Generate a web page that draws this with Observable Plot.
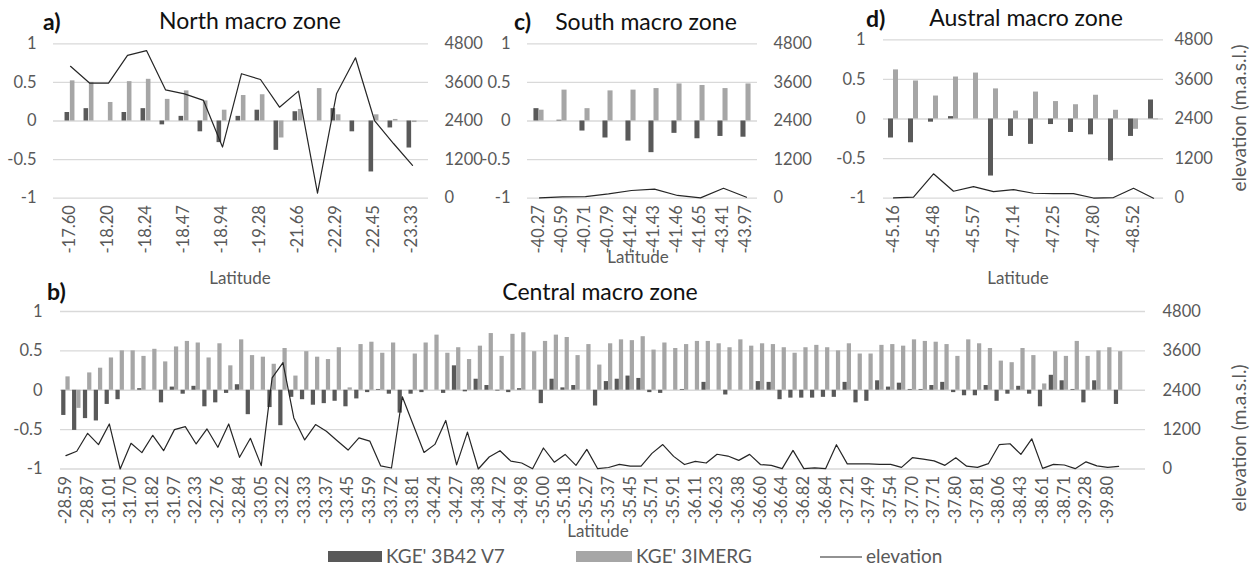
<!DOCTYPE html>
<html><head><meta charset="utf-8">
<script src="https://cdn.jsdelivr.net/npm/d3@7"></script>
<script src="https://cdn.jsdelivr.net/npm/@observablehq/plot@0.6"></script>
<style>
body{margin:0;background:#fff;}
#wrap{position:relative;width:1250px;height:573px;font-family:Lato,sans-serif;overflow:hidden;}
#wrap svg{position:absolute;left:0;top:0;}
</style></head><body><div id="wrap"></div>
<script>
// ---- data ----
const kgeTicks = [-1, -0.5, 0, 0.5, 1];
const elevTicks = [0, 1200, 2400, 3600, 4800];

const northLabels = ["-17.60","-18.20","-18.24","-18.47","-18.94","-19.28","-21.66","-22.29","-22.45","-23.33"];
const north3B42  = [0.11,0.16,0,0.11,0.16,-0.05,0.06,-0.14,-0.28,0.06,0.14,-0.38,0.12,0,0.16,-0.14,-0.66,-0.09,-0.35];
const northIMERG = [0.52,0.50,0.24,0.51,0.54,0.28,0.39,0.26,0.14,0.33,0.34,-0.22,0.15,0.42,0.08,0,0.08,0.02,-0.02];
const northElev  = [4100,3580,3580,4440,4590,3370,3245,3040,1590,3870,3690,2830,3330,155,3245,4365,2415,1700,1020];

const southLabels = ["-40.27","-40.59","-40.71","-40.79","-41.42","-41.43","-41.46","-41.65","-43.41","-43.97"];
const south3B42  = [0.16,0.01,-0.13,-0.22,-0.26,-0.41,-0.16,-0.23,-0.20,-0.21];
const southIMERG = [0.14,0.40,0.16,0.39,0.40,0.42,0.48,0.46,0.42,0.48];
const southElev  = [10,40,50,135,240,280,85,10,310,30];

const australLabels = ["-45.16","-45.48","-45.57","-47.14","-47.25","-47.80","-48.52"];
const austral3B42  = [-0.24,-0.30,-0.04,0.03,0,-0.72,-0.22,-0.32,-0.07,-0.17,-0.20,-0.53,-0.22,0.24];
const australIMERG = [0.62,0.48,0.29,0.53,0.58,0.38,0.10,0.34,0.22,0.18,0.30,0.11,-0.13,-0.01];
const australElev  = [10,30,740,210,350,200,260,150,140,140,5,20,300,0];

const centralLabels = ["-28.59","-28.87","-31.01","-31.70","-31.82","-31.97","-32.33","-32.76","-32.84","-33.05",
  "-33.22","-33.33","-33.37","-33.45","-33.59","-33.72","-33.81","-34.24","-34.27","-34.38",
  "-34.72","-34.98","-35.00","-35.18","-35.27","-35.37","-35.45","-35.71","-35.91","-36.11",
  "-36.23","-36.38","-36.60","-36.64","-36.82","-36.84","-37.21","-37.49","-37.54","-37.70",
  "-37.71","-37.80","-37.81","-38.06","-38.43","-38.61","-38.71","-39.28","-39.80"];
const central3B42 = [-0.32,-0.51,-0.36,-0.39,-0.18,-0.12,0,0.02,0,-0.16,
  0.04,-0.05,0.05,-0.21,-0.16,-0.04,0.07,-0.31,0,-0.22,
  -0.45,-0.09,-0.12,-0.19,-0.17,-0.14,-0.21,-0.11,-0.03,0.01,
  -0.05,-0.29,-0.05,-0.03,0,-0.04,0.31,-0.02,0.14,0.06,
  -0.01,-0.03,0.02,0,-0.17,0.14,0.03,0.06,0,-0.20,
  0.11,0.14,0.18,0.15,-0.03,-0.04,0,0.01,0,0.10,
  0,-0.06,0,0,0.11,0.10,-0.12,-0.10,-0.10,-0.10,
  -0.09,-0.09,0.10,-0.16,-0.14,0.12,0.04,0.09,0.01,0.01,
  0.06,0.10,-0.03,-0.07,-0.07,0.06,-0.14,-0.05,0.05,-0.05,
  -0.21,0.19,0.12,0.01,-0.16,0.12,0,-0.18];
const centralIMERG = [0.17,-0.23,0.22,0.28,0.41,0.50,0.50,0.43,0.52,0.36,
  0.55,0.62,0.60,0.41,0.59,0.31,0.64,0.44,0.42,0.33,
  0.53,0.18,0.49,0.42,0.39,0.54,0.03,0.58,0.61,0.47,
  0.60,0,0.46,0.60,0.70,0.47,0.54,0.39,0.56,0.72,
  0.43,0.71,0.73,0.49,0.62,0.70,0.67,0.44,0.58,0.32,
  0.59,0.64,0.63,0.68,0.51,0.60,0.53,0.58,0.62,0.62,
  0.59,0.54,0.64,0.56,0.59,0.58,0.54,0.47,0.54,0.57,
  0.54,0.50,0.59,0.46,0.46,0.57,0.58,0.56,0.64,0.62,
  0.61,0.58,0.43,0.64,0.59,0.53,0.37,0.35,0.53,0.44,
  0.08,0.49,0.43,0.62,0.43,0.50,0.54,0.49];
const centralElev = [407,539,1088,742,1373,0,783,498,1027,559,
  1200,1292,763,1220,661,1373,356,936,102,2777,
  3244,1556,885,1353,1149,862,578,948,850,96,
  30,2200,1350,505,750,1480,125,1125,0,365,
  557,238,182,10,640,208,445,112,598,10,
  45,140,90,90,476,745,385,136,233,182,
  450,395,263,445,136,110,10,567,10,35,
  10,740,157,157,157,140,142,50,345,300,
  248,112,340,86,50,162,740,770,445,920,
  20,142,122,10,218,96,50,80];

// ---- drawing ----
const W = 1250, H = 573;
const wrap = document.getElementById("wrap");
const baseStyle = {background:"transparent", overflow:"visible", fontFamily:"Lato, sans-serif", fontSize:"16.5px", color:"#595959"};

function panel(c) {
  const n = c.d1.length;
  const idx = d3.range(n);
  const inR = c.insetRight || 0;
  const bw = (c.R - c.L - inR) / n;
  const common = {width: W, height: H, marginLeft: c.L, marginRight: W - c.R, marginTop: c.T, marginBottom: H - c.B, style: baseStyle};
  const ticks = idx.filter(i => i % c.every === 0);
  const bars = Plot.plot({
    ...common,
    x: {type: "band", domain: idx, padding: 0, insetRight: inR},
    y: {domain: [-1, 1]},
    marks: [
      Plot.ruleY(kgeTicks, {stroke: "#d9d9d9", strokeWidth: 1.3}),
      Plot.barY(c.d1, {x: (d, i) => i, y: d => d, fill: "#595959", insetLeft: bw * (0.5 - c.frac), insetRight: bw * 0.5}),
      Plot.barY(c.d2, {x: (d, i) => i, y: d => d, fill: "#a6a6a6", insetLeft: bw * 0.5, insetRight: bw * (0.5 - c.frac)}),
      Plot.axisY({ticks: kgeTicks, tickSize: 0, tickPadding: c.padL, tickFormat: d => String(d), label: null}),
      Plot.axisX({ticks, tickFormat: i => c.labels[i / c.every], tickRotate: -90, tickSize: 0, tickPadding: 7, label: null})
    ]
  });
  const line = Plot.plot({
    ...common,
    x: {type: "point", domain: idx, padding: 0.5, insetRight: inR, axis: null},
    y: {domain: [0, 4800]},
    marks: [
      Plot.line(c.elev, {x: (d, i) => i, y: d => d, stroke: "#262626", strokeWidth: 1.2}),
      Plot.axisY({anchor: "right", ticks: elevTicks, tickSize: 0, tickPadding: c.padR, tickFormat: d => String(d), label: null})
    ]
  });
  wrap.appendChild(bars);
  wrap.appendChild(line);
}

panel({d1: north3B42, d2: northIMERG, elev: northElev, labels: northLabels, every: 2, L: 53, R: 428, T: 43.3, B: 197.7, frac: 0.27, padL: 17, padR: 16});
panel({d1: south3B42, d2: southIMERG, elev: southElev, labels: southLabels, every: 1, L: 527, R: 757, T: 43.3, B: 197.7, frac: 0.22, padL: 17, padR: 16});
panel({d1: austral3B42, d2: australIMERG, elev: australElev, labels: australLabels, every: 2, L: 883, R: 1163, T: 39.3, B: 197.7, frac: 0.25, padL: 18, padR: 11});
panel({d1: central3B42, d2: centralIMERG, elev: centralElev, labels: centralLabels, every: 2, L: 60, R: 1145, T: 311, B: 468.5, frac: 0.39, padL: 18, padR: 17, insetRight: 21.5});

// ---- annotations ----
const ns = "http://www.w3.org/2000/svg";
const ann = document.createElementNS(ns, "svg");
ann.setAttribute("width", W); ann.setAttribute("height", H);
ann.style.fontFamily = "Lato, sans-serif";
ann.innerHTML = `
<g fill="#111">
  <text x="43" y="30" font-size="23" font-weight="bold">a)</text>
  <text x="250" y="29" font-size="23" text-anchor="middle">North macro zone</text>
  <text x="514" y="30" font-size="23" font-weight="bold">c)</text>
  <text x="646" y="30" font-size="23" text-anchor="middle">South macro zone</text>
  <text x="866" y="27" font-size="23" font-weight="bold">d)</text>
  <text x="1026" y="26" font-size="23" text-anchor="middle">Austral macro zone</text>
  <text x="47" y="300" font-size="23" font-weight="bold">b)</text>
  <text x="600" y="300" font-size="23" text-anchor="middle">Central macro zone</text>
</g>
<g fill="#595959" font-size="17" text-anchor="middle">
  <text x="240" y="284">Latitude</text>
  <text x="638" y="263">Latitude</text>
  <text x="1018" y="284">Latitude</text>
  <text x="598" y="537">Latitude</text>
</g>
<g fill="#595959" font-size="19" text-anchor="middle">
  <text transform="translate(1246,118) rotate(-90)">elevation (m.a.s.l.)</text>
  <text transform="translate(1246,438) rotate(-90)">elevation (m.a.s.l.)</text>
</g>
<g fill="#595959" font-size="19">
  <rect x="328" y="551" width="54" height="11" fill="#595959"></rect>
  <text x="386" y="563">KGE' 3B42 V7</text>
  <rect x="576" y="551" width="56" height="11" fill="#a6a6a6"></rect>
  <text x="636" y="563">KGE' 3IMERG</text>
  <line x1="820" x2="862" y1="557" y2="557" stroke="#262626" stroke-width="1.2"></line>
  <text x="866" y="563">elevation</text>
</g>`;
wrap.appendChild(ann);
</script>
</body></html>
